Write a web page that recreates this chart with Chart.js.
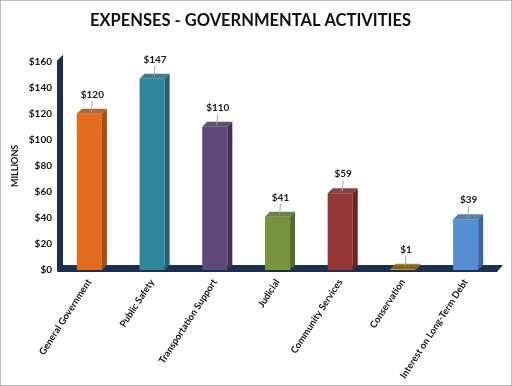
<!DOCTYPE html>
<html>
<head>
<meta charset="utf-8">
<script src="https://cdn.jsdelivr.net/npm/chart.js@4"></script>
<style>
  html, body { margin: 0; padding: 0; background: #fff; }
  canvas { display: block; }
</style>
</head>
<body>
<canvas id="grafico" width="512" height="386"></canvas>
<script>
const categorias = ['General Government', 'Public Safety', 'Transportation Support', 'Judicial',
  'Community Services', 'Conservation', 'Interest on Long-Term Debt'];
const despesas = [120, 147, 110, 41, 59, 1, 39];
const cores = ['#E46C1E', '#31869B', '#60497A', '#77933C', '#953735', '#CC9A1E', '#558ED5'];
const coresEscuras = ['#A84E14', '#236272', '#433355', '#546A29', '#6B2624', '#94701A', '#3C679C'];
const ticksY = [0, 20, 40, 60, 80, 100, 120, 140, 160];

const PROF = 5;
const FONTE = "Lato, 'Open Sans', sans-serif";

const efeito3d = {
  id: 'efeito3d',
  beforeDraw(chart) {
    const { ctx } = chart;
    ctx.save();
    ctx.strokeStyle = '#BBBBBB';
    ctx.lineWidth = 1;
    ctx.strokeRect(0.5, 0.5, chart.width - 1, chart.height - 1);
    ctx.restore();
  },
  beforeDatasetsDraw(chart) {
    const { ctx, chartArea } = chart;
    const base = chart.scales.y.getPixelForValue(0);
    const esq = chartArea.left;
    ctx.save();
    ctx.fillStyle = '#1B2F4E';
    // parede
    ctx.beginPath();
    ctx.moveTo(esq - 1, base + 2);
    ctx.lineTo(esq - 1, chartArea.top - 1);
    ctx.lineTo(esq + 5, chartArea.top - 7);
    ctx.lineTo(esq + 5, base - 4);
    ctx.closePath();
    ctx.fill();
    // piso
    ctx.beginPath();
    ctx.moveTo(esq - 1, base + 2);
    ctx.lineTo(chartArea.right, base + 2);
    ctx.lineTo(chartArea.right + 6, base - 5);
    ctx.lineTo(esq + 5, base - 5);
    ctx.closePath();
    ctx.fill();
    ctx.restore();
  },
  afterDatasetsDraw(chart) {
    const { ctx } = chart;
    const meta = chart.getDatasetMeta(0);
    ctx.save();
    meta.data.forEach((bar, i) => {
      const { x, y, base, width } = bar.getProps(['x', 'y', 'base', 'width'], true);
      const l = x - width / 2, r = x + width / 2;
      ctx.fillStyle = coresEscuras[i];
      ctx.beginPath();
      ctx.moveTo(r, y); ctx.lineTo(r + PROF, y - PROF);
      ctx.lineTo(r + PROF, base - PROF); ctx.lineTo(r, base);
      ctx.closePath(); ctx.fill();
      ctx.globalAlpha = 0.85;
      ctx.beginPath();
      ctx.moveTo(l, y); ctx.lineTo(l + PROF, y - PROF);
      ctx.lineTo(r + PROF, y - PROF); ctx.lineTo(r, y);
      ctx.closePath(); ctx.fill();
      ctx.globalAlpha = 1;
      // rótulo
      const topo = y - PROF;
      ctx.strokeStyle = '#A6A6A6';
      ctx.lineWidth = 1;
      ctx.beginPath();
      ctx.moveTo(x + 2, topo + 3); ctx.lineTo(x + 3, topo - 8);
      ctx.stroke();
      ctx.fillStyle = '#1a1a1a';
      ctx.font = 'bold 10px ' + FONTE;
      ctx.textAlign = 'center';
      ctx.textBaseline = 'bottom';
      ctx.fillText('$' + despesas[i], x + 3, topo - 9);
    });
    ctx.restore();
  }
};

new Chart(document.getElementById('grafico').getContext('2d'), {
  type: 'bar',
  data: {
    labels: categorias,
    datasets: [{
      data: despesas,
      backgroundColor: cores,
      borderWidth: 0,
      barPercentage: 0.8,
      categoryPercentage: 0.5
    }]
  },
  options: {
    responsive: false,
    animation: false,
    devicePixelRatio: 1,
    layout: { padding: { top: 6, right: 15, bottom: 4, left: 4 } },
    plugins: {
      legend: { display: false },
      tooltip: { enabled: false },
      title: {
        display: true,
        text: 'EXPENSES - GOVERNMENTAL ACTIVITIES',
        color: '#111',
        font: { family: FONTE, size: 16.5, weight: 'bold' },
        padding: { top: 5, bottom: 31 }
      }
    },
    scales: {
      y: {
        min: 0, max: 160,
        afterBuildTicks(s) { s.ticks = ticksY.map(v => ({ value: v })); },
        afterFit(s) { s.width = 54; },
        grid: { display: false, drawTicks: false },
        border: { display: false },
        ticks: {
          color: '#111', padding: 6,
          font: { family: FONTE, size: 10, weight: 'bold' },
          callback: v => '$' + v
        },
        title: {
          display: true, text: 'MILLIONS', color: '#111',
          font: { family: FONTE, size: 9, weight: 'bold' }, padding: { top: 6, bottom: 0 }
        }
      },
      x: {
        grid: { display: false, drawTicks: false },
        border: { display: false },
        afterFit(s) { s.height = 112; },
        ticks: {
          color: '#111', padding: 7, autoSkip: false,
          minRotation: 57, maxRotation: 57,
          font: { family: FONTE, size: 9.5, weight: 'bold' }
        }
      }
    }
  },
  plugins: [efeito3d]
});
</script>
</body>
</html>
